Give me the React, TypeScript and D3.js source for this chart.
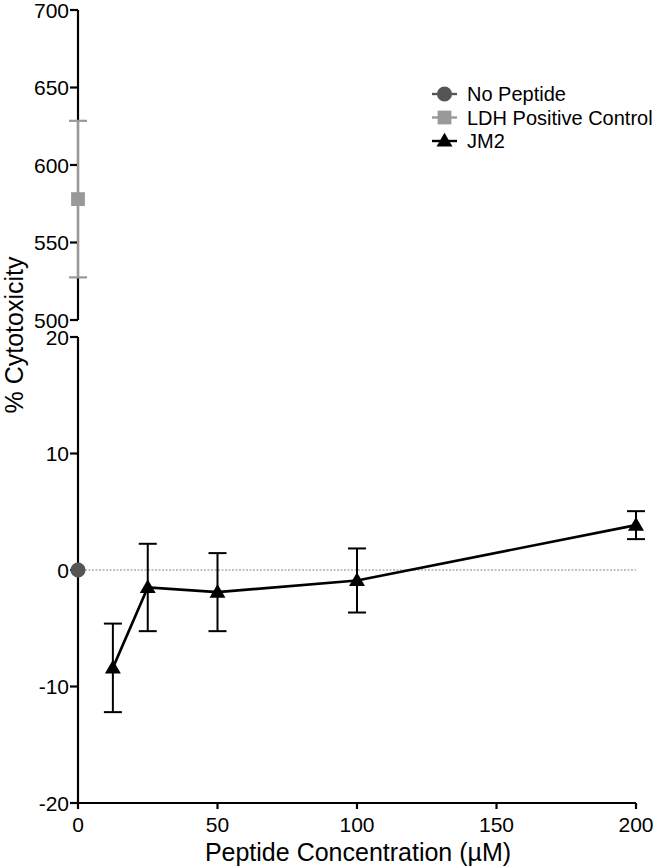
import React from "react";
import * as d3 from "d3";

const jm2Conc = [12.5, 25, 50, 100, 200];
const jm2Mean = [-8.4, -1.5, -1.9, -0.9, 3.85];
const jm2Err = [3.8, 3.75, 3.35, 2.75, 1.2];
const noPeptideConc = [0];
const noPeptideMean = [0];
const ldhConc = [0];
const ldhMean = [578];
const ldhErr = [50.5];
const xTicks = [0, 50, 100, 150, 200];
const yLowTicks = [-20, -10, 0, 10, 20];
const yHighTicks = [500, 550, 600, 650, 700];
const legendLabels = ["No Peptide", "LDH Positive Control", "JM2"];

const FONT = "'Liberation Sans', Arial, Helvetica, sans-serif";
const W = 667;
const H = 866;

export default function App() {
  const x = d3.scaleLinear().domain([0, 200]).range([78, 636]);
  const yLow = d3.scaleLinear().domain([-20, 20]).range([803, 337]);
  const yHigh = d3.scaleLinear().domain([500, 700]).range([320, 10]);

  const line = d3
    .line<number>()
    .x((_, i) => x(jm2Conc[i]))
    .y((d) => yLow(d));

  const tri = d3.symbol().type(d3.symbolTriangle).size(110)() as string;
  const sq = d3.symbol().type(d3.symbolSquare).size(190)() as string;
  const circ = d3.symbol().type(d3.symbolCircle).size(180)() as string;

  const cap = 9;
  const x0 = x(0);

  return (
    <svg
      width={W}
      height={H}
      style={{ position: "absolute", left: 0, top: 0, background: "#fff" }}
      fontFamily={FONT}
    >
      {/* zero reference line */}
      <line
        x1={x0}
        x2={x(200)}
        y1={yLow(0)}
        y2={yLow(0)}
        stroke="#888"
        strokeWidth={1.2}
        strokeDasharray="2,1.5"
      />

      {/* upper y axis */}
      <line x1={x0} x2={x0} y1={yHigh(700)} y2={yHigh(500)} stroke="#000" strokeWidth={2.2} />
      {yHighTicks.map((t) => (
        <g key={"yh" + t}>
          <line x1={x0 - 8} x2={x0} y1={yHigh(t)} y2={yHigh(t)} stroke="#000" strokeWidth={2.2} />
          <text x={x0 - 9} y={yHigh(t)} dy="0.36em" textAnchor="end" fontSize={21} fill="#000">
            {t}
          </text>
        </g>
      ))}

      {/* lower y axis */}
      <line x1={x0} x2={x0} y1={yLow(20)} y2={yLow(-20)} stroke="#000" strokeWidth={2.2} />
      {yLowTicks.map((t) => (
        <g key={"yl" + t}>
          <line x1={x0 - 8} x2={x0} y1={yLow(t)} y2={yLow(t)} stroke="#000" strokeWidth={2.2} />
          <text x={x0 - 9} y={yLow(t)} dy="0.36em" textAnchor="end" fontSize={21} fill="#000">
            {t}
          </text>
        </g>
      ))}

      {/* x axis */}
      <line x1={x0} x2={x(200)} y1={yLow(-20)} y2={yLow(-20)} stroke="#000" strokeWidth={2.2} />
      {xTicks.map((t) => (
        <g key={"x" + t}>
          <line x1={x(t)} x2={x(t)} y1={yLow(-20)} y2={yLow(-20) + 6} stroke="#000" strokeWidth={2.2} />
          <text x={x(t)} y={yLow(-20) + 29} textAnchor="middle" fontSize={21} fill="#000">
            {t}
          </text>
        </g>
      ))}

      {/* axis titles */}
      <text x={358} y={861} textAnchor="middle" fontSize={25} fill="#000">
        Peptide Concentration (µM)
      </text>
      <text
        transform={`translate(23,335) rotate(-90)`}
        textAnchor="middle"
        fontSize={25}
        fill="#000"
      >
        % Cytotoxicity
      </text>

      {/* LDH positive control */}
      {ldhMean.map((m, i) => (
        <g key={"ldh" + i}>
          <line
            x1={x(ldhConc[i])}
            x2={x(ldhConc[i])}
            y1={yHigh(m + ldhErr[i])}
            y2={yHigh(m - ldhErr[i])}
            stroke="#999"
            strokeWidth={2.2}
          />
          {[m + ldhErr[i], m - ldhErr[i]].map((v, k) => (
            <line
              key={k}
              x1={x(ldhConc[i]) - cap}
              x2={x(ldhConc[i]) + cap}
              y1={yHigh(v)}
              y2={yHigh(v)}
              stroke="#999"
              strokeWidth={2.2}
            />
          ))}
          <path d={sq} transform={`translate(${x(ldhConc[i])},${yHigh(m)})`} fill="#999" />
        </g>
      ))}

      {/* JM2 error bars */}
      {jm2Mean.map((m, i) => {
        const cx = x(jm2Conc[i]);
        return (
          <g key={"e" + i} stroke="#000" strokeWidth={2}>
            <line x1={cx} x2={cx} y1={yLow(m + jm2Err[i])} y2={yLow(m - jm2Err[i])} />
            <line x1={cx - cap} x2={cx + cap} y1={yLow(m + jm2Err[i])} y2={yLow(m + jm2Err[i])} />
            <line x1={cx - cap} x2={cx + cap} y1={yLow(m - jm2Err[i])} y2={yLow(m - jm2Err[i])} />
          </g>
        );
      })}
      <path d={line(jm2Mean) as string} fill="none" stroke="#000" strokeWidth={2.6} />
      {jm2Mean.map((m, i) => (
        <path key={"t" + i} d={tri} transform={`translate(${x(jm2Conc[i])},${yLow(m) + 1})`} fill="#000" />
      ))}

      {/* No peptide */}
      {noPeptideMean.map((m, i) => (
        <path key={"np" + i} d={circ} transform={`translate(${x(noPeptideConc[i])},${yLow(m)})`} fill="#555" />
      ))}

      {/* legend */}
      {legendLabels.map((lab, i) => {
        const ly = 94 + i * 23.5;
        const color = i === 0 ? "#555" : i === 1 ? "#999" : "#000";
        const mk = i === 0 ? circ : i === 1 ? sq : tri;
        return (
          <g key={lab}>
            <line x1={432} x2={457} y1={ly} y2={ly} stroke={color} strokeWidth={2.4} />
            <path d={mk} transform={`translate(444.5,${ly + (i === 2 ? 1 : 0)})`} fill={color} />
            <text x={467} y={ly} dy="0.36em" fontSize={20} fill="#000">
              {lab}
            </text>
          </g>
        );
      })}
    </svg>
  );
}
